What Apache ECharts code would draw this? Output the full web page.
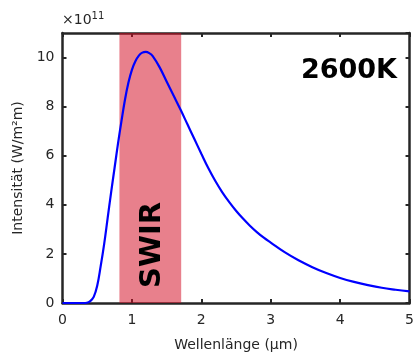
<!DOCTYPE html>
<html>
<head>
<meta charset="utf-8">
<script src="https://cdn.jsdelivr.net/npm/echarts@6/dist/echarts.min.js"></script>
<style>html,body{margin:0;padding:0;background:#fff}#c{width:417px;height:357px}</style>
</head>
<body>
<div id="c"></div>
<script>
// wavelength in µm
const wavelengths = [0, 0.1, 0.2, 0.3, 0.35, 0.4, 0.45, 0.5, 0.55, 0.6, 0.65, 0.7, 0.75, 0.8, 0.85, 0.9, 0.95, 1.0, 1.05, 1.1, 1.15, 1.2, 1.25, 1.3, 1.4, 1.5, 1.6, 1.7, 1.8, 1.9, 2.0, 2.1, 2.2, 2.3, 2.4, 2.5, 2.6, 2.7, 2.8, 2.9, 3.0, 3.2, 3.4, 3.6, 3.8, 4.0, 4.2, 4.4, 4.6, 4.8, 5.0];
// intensity in 1e11 W/m^2m
const intensity = [0, 0, 0, 0, 0.01, 0.08, 0.25, 0.7, 1.5, 2.4, 3.45, 4.5, 5.5, 6.5, 7.42, 8.28, 8.98, 9.5, 9.85, 10.08, 10.2, 10.23, 10.18, 10.06, 9.6, 9.02, 8.45, 7.88, 7.28, 6.68, 6.08, 5.5, 4.98, 4.52, 4.12, 3.76, 3.44, 3.15, 2.89, 2.66, 2.46, 2.07, 1.74, 1.46, 1.22, 1.02, 0.86, 0.73, 0.62, 0.54, 0.47];
const swirBand = [0.82, 1.71];
const xTicks = [0, 1, 2, 3, 4, 5];
const yTicks = [0, 2, 4, 6, 8, 10];
const labels = { x: 'Wellenlänge (µm)', y: 'Intensität (W/m²m)', temp: '2600K', band: 'SWIR' };

const axisColor = '#262626';
const font = 'DejaVu Sans';
const chart = echarts.init(document.getElementById('c'));
const baseX = {
  type: 'value', min: 0, max: 5, interval: 1,
  axisLine: { show: true, onZero: false, lineStyle: { color: axisColor, width: 2.5 } },
  axisTick: { show: true, inside: true, length: 4, lineStyle: { color: axisColor, width: 2 } },
  splitLine: { show: false }
};
const baseY = {
  type: 'value', min: 0, max: 11, interval: 2,
  axisLine: { show: true, onZero: false, lineStyle: { color: axisColor, width: 2.5 } },
  axisTick: { show: true, inside: true, length: 4, lineStyle: { color: axisColor, width: 2 } },
  splitLine: { show: false }
};
chart.setOption({
  animation: false,
  grid: { left: 62.5, right: 6, top: 33, bottom: 51.5 },
  xAxis: [
    Object.assign({}, baseX, {
      position: 'bottom',
      name: labels.x, nameLocation: 'middle', nameGap: 35,
      nameTextStyle: { fontFamily: font, fontSize: 14, color: axisColor },
      axisLabel: { fontFamily: font, fontSize: 14, color: axisColor, margin: 10,
        formatter: v => xTicks.includes(v) ? String(v) : '' }
    }),
    Object.assign({}, baseX, { position: 'top', axisLabel: { show: false } })
  ],
  yAxis: [
    Object.assign({}, baseY, {
      position: 'left',
      name: labels.y, nameLocation: 'middle', nameGap: 34,
      nameTextStyle: { fontFamily: font, fontSize: 14, color: axisColor },
      axisLabel: { fontFamily: font, fontSize: 14, color: axisColor, margin: 8, showMaxLabel: false,
        formatter: v => yTicks.includes(v) ? String(v) : '' }
    }),
    Object.assign({}, baseY, { position: 'right', axisLabel: { show: false } })
  ],
  series: [
    {
      type: 'line', xAxisIndex: 0, yAxisIndex: 0, z: 2,
      data: wavelengths.map((x, i) => [x, intensity[i]]),
      smooth: 0.4, showSymbol: false,
      lineStyle: { color: '#0000ff', width: 2.2 }
    },
    {
      type: 'line', xAxisIndex: 0, yAxisIndex: 0, z: 10, data: [],
      markArea: {
        silent: true,
        itemStyle: { color: 'rgba(211,11,34,0.52)' },
        label: { show: false },
        data: [[{ xAxis: swirBand[0], yAxis: 0 }, { xAxis: swirBand[1], yAxis: 11 }]]
      }
    }
  ],
  graphic: [
    { type: 'text', left: 62, top: 11, z: 20,
      style: { text: '×10{s|11}', fontFamily: font, fontSize: 14, fill: axisColor,
        rich: { s: { fontSize: 10, verticalAlign: 'top', padding: [0, 0, 8, 0], fontFamily: font, fill: axisColor } } } },
    { type: 'text', right: 20, top: 57, z: 20,
      style: { text: labels.temp, fontFamily: font, fontSize: 27, fontWeight: 'bold', fill: '#000' } },
    { type: 'text', x: 152, y: 245, rotation: Math.PI / 2, z: 20,
      style: { text: labels.band, fontFamily: font, fontSize: 29, fontWeight: 'bold', fill: '#000',
        align: 'center', verticalAlign: 'middle' } }
  ]
});
</script>
</body>
</html>
